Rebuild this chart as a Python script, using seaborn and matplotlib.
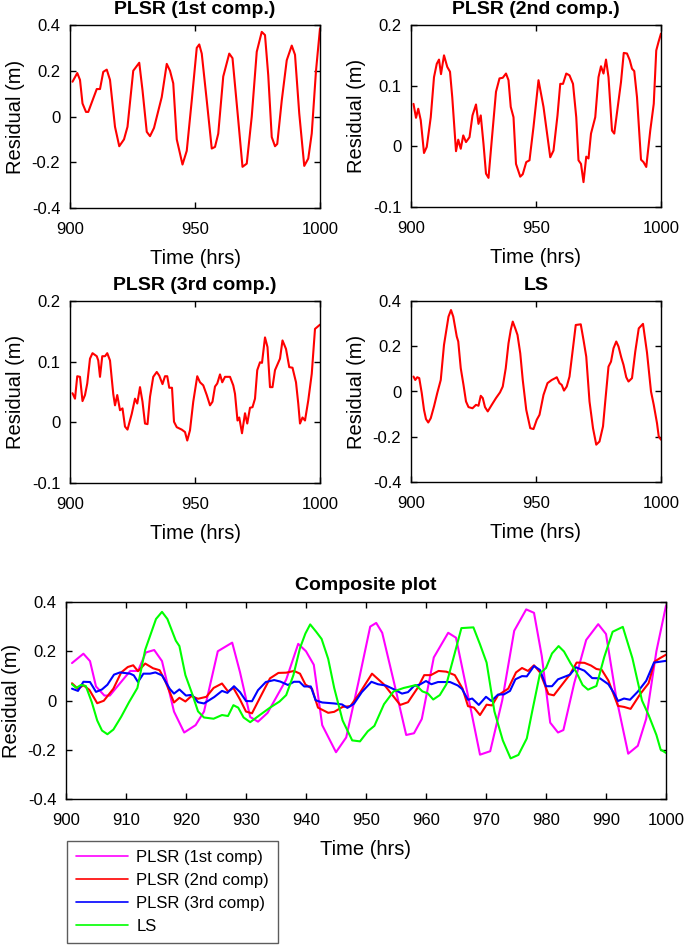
import numpy as np
import pandas as pd
import matplotlib
matplotlib.use("Agg")
import matplotlib.pyplot as plt
import seaborn as sns

# ---------------- data ----------------
t_pc1 = [901, 902.9, 904, 905, 906.4, 907.3, 910.7, 912, 913.3, 914.7, 916, 918, 919.7, 921.6,
         923, 925.3, 927.7, 929, 930.7, 932, 933.6, 936.7, 938.7, 940, 941.3, 942.7, 945, 946.7,
         948.7, 950.7, 951.7, 952.7, 954.7, 956.7, 958, 959.3, 961.3, 963.7, 965, 967.3, 969,
         970.7, 972.7, 974.7, 976.7, 978, 979.3, 980.7, 982, 982.9, 984.7, 986.7, 988.7, 990,
         991.7, 993.7, 995.3, 996.7, 998.4, 1000]
v_pc1 = [0.152, 0.19, 0.16, 0.057, 0.02, 0.02, 0.12, 0.12, 0.195, 0.205, 0.16, -0.045, -0.13, -0.10,
         -0.045, 0.20, 0.235, 0.115, -0.067, -0.086, -0.05, 0.085, 0.23, 0.20, 0.145, -0.10, -0.21, -0.15,
         0.07, 0.30, 0.315, 0.275, 0.07, -0.14, -0.133, -0.075, 0.175, 0.275, 0.255, -0.016, -0.22,
         -0.206, 0.0, 0.283, 0.37, 0.356, 0.18, -0.09, -0.13, -0.12, 0.07, 0.246, 0.31, 0.27,
         0.013, -0.216, -0.184, -0.074, 0.20, 0.385]

t_pc2 = [901, 902, 902.9, 903.9, 905.2, 906.3, 907.9, 909.2, 910.3, 911.2, 912, 913.2, 914.5, 915.6,
         916.5, 918, 918.9, 919.9, 920.9, 922, 923.4, 924.6, 926, 927, 927.9, 929, 930, 931, 932.3,
         934, 935.4, 936.7, 938, 939, 939.9, 941, 942, 943.7, 944.7, 946.1, 947.4, 949, 951, 953,
         955.7, 957, 958.6, 959.7, 960.8, 962.1, 963.4, 964.8, 966.1, 967, 968, 969, 970.1, 971,
         972, 973.7, 975, 976, 977, 978, 979, 980.4, 981.3, 982.7, 984, 985.1, 986.4, 987.5, 988.4,
         989.3, 990.4, 992, 993, 994.1, 995.7, 997.1, 998.1, 999, 1000]
v_pc2 = [0.070, 0.047, 0.062, 0.043, -0.011, -0.001, 0.048, 0.114, 0.136, 0.143, 0.119, 0.150, 0.131, 0.123,
         0.081, -0.008, 0.011, -0.004, 0.018, 0.007, 0.015, 0.051, 0.069, 0.037, 0.051, 0.004, -0.045, -0.052, 0.010,
         0.090, 0.112, 0.113, 0.120, 0.109, 0.065, 0.048, -0.029, -0.050, -0.046, -0.026, -0.023, 0.032, 0.109, 0.065,
         -0.018, -0.007, 0.051, 0.103, 0.103, 0.120, 0.117, 0.103, 0.048, -0.023, -0.029, -0.059, -0.017, -0.020,
         0.021, 0.048, 0.114, 0.132, 0.120, 0.143, 0.114, 0.026, 0.021, 0.065, 0.106, 0.154, 0.153, 0.142, 0.128,
         0.124, 0.081, -0.022, -0.026, -0.034, 0.026, 0.070, 0.158, 0.172, 0.186]

t_pc3 = [901, 902, 902.9, 904, 905, 906, 906.9, 908, 909, 910.7, 911.3, 912, 912.9, 914, 914.9, 916,
         916.7, 917.3, 918, 918.9, 920, 921, 922, 923, 924.7, 926, 926.9, 928, 929, 930, 931, 932,
         933.3, 934.7, 935.7, 937, 938, 938.9, 939.7, 940.8, 941.6, 942.7, 944.7, 946, 946.9, 948,
         949.3, 950.9, 952, 953.3, 954.7, 956, 957, 958, 958.9, 960, 960.9, 962, 964, 965.3, 966,
         967, 967.7, 968.8, 970, 970.9, 972, 973, 974, 974.9, 976, 976.8, 978, 979, 980, 981, 982,
         984, 985, 986.4, 987.7, 989, 990.4, 991.3, 992, 993, 994, 995.3, 996.7, 998, 1000]
v_pc3 = [0.048, 0.039, 0.076, 0.075, 0.035, 0.045, 0.064, 0.105, 0.114, 0.109, 0.102, 0.075, 0.109, 0.109, 0.114, 0.102,
         0.072, 0.047, 0.028, 0.045, 0.020, 0.023, -0.007, -0.012, 0.014, 0.039, 0.031, 0.058, 0.034, -0.002, -0.003, 0.042,
         0.075, 0.083, 0.077, 0.063, 0.076, 0.076, 0.057, 0.057, 0.001, -0.008, -0.012, -0.016, -0.030, -0.013,
         0.034, 0.076, 0.066, 0.061, 0.045, 0.028, 0.034, 0.059, 0.064, 0.079, 0.066, 0.075, 0.075, 0.061, 0.047,
         0.003, 0.008, -0.018, 0.015, -0.002, 0.024, 0.025, 0.039, 0.086, 0.099, 0.098, 0.140, 0.124, 0.058, 0.058, 0.086,
         0.105, 0.135, 0.121, 0.091, 0.090, 0.066, 0.031, -0.002, 0.008, 0.003, 0.036, 0.080, 0.154, 0.161]

t_ls = [901, 901.7, 902.5, 903.3, 904.3, 905.2, 906, 906.9, 907.9, 909.2, 910.5, 911.9, 913.2, 915, 916,
        916.9, 918.3, 918.9, 919.9, 921, 922, 923, 924.6, 926, 927, 927.9, 928.7, 929.6, 930.7, 932.3,
        934, 935.6, 936.7, 937.9, 939, 939.9, 940.7, 941.7, 942.6, 943.7, 944.7, 946.1, 947.7, 949,
        950.3, 951.4, 953, 954.6, 956.3, 957.7, 958.3, 959.4, 960.3, 961.2, 962.3, 963.4, 964.7, 965.9,
        967.9, 969, 970.1, 971.4, 972.8, 974.1, 975.4, 976.8, 977.7, 979, 980, 981, 982.1, 983, 984.1,
        985, 986.1, 987, 988.4, 989.7, 991.1, 992.8, 994.4, 996, 997.1, 998.4, 999.1, 1000]
v_ls = [0.066, 0.051, 0.063, 0.059, -0.007, -0.081, -0.122, -0.137, -0.118, -0.066, -0.007, 0.051, 0.206, 0.331, 0.360,
        0.331, 0.243, 0.221, 0.103, 0.029, -0.044, -0.069, -0.074, -0.059, -0.063, -0.019, -0.029, -0.069, -0.088, -0.059,
        -0.029, -0.004, 0.022, 0.103, 0.213, 0.272, 0.309, 0.279, 0.250, 0.169, 0.051, -0.081, -0.162, -0.166,
        -0.125, -0.103, -0.015, 0.037, 0.051, 0.059, 0.063, 0.037, 0.029, 0.004, 0.022, 0.066, 0.184, 0.294,
        0.297, 0.228, 0.154, -0.044, -0.162, -0.235, -0.221, -0.154, -0.044, 0.110, 0.132, 0.191, 0.221, 0.199, 0.151,
        0.118, 0.063, 0.044, 0.059, 0.176, 0.279, 0.299, 0.172, 0.0, -0.059, -0.140, -0.199, -0.213]

series_names = ["PLSR (1st comp)", "PLSR (2nd comp)", "PLSR (3rd comp)", "LS"]
panel_titles = ["PLSR (1st comp.)", "PLSR (2nd comp.)", "PLSR (3rd comp.)", "LS"]
series_colors = ["#ff00ff", "#ff0000", "#0000ff", "#00ff00"]
panel_ylims = [(-0.4, 0.4), (-0.1, 0.2), (-0.1, 0.2), (-0.4, 0.4)]
panel_yticks = [[-0.4, -0.2, 0, 0.2, 0.4], [-0.1, 0, 0.1, 0.2], [-0.1, 0, 0.1, 0.2], [-0.4, -0.2, 0, 0.2, 0.4]]
panel_ytick_labels = [["-0.4", "-0.2", "0", "0.2", "0.4"], ["-0.1", "0", "0.1", "0.2"],
                      ["-0.1", "0", "0.1", "0.2"], ["-0.4", "-0.2", "0", "0.2", "0.4"]]
comp_xticks = [900, 910, 920, 930, 940, 950, 960, 970, 980, 990, 1000]
comp_yticks = [-0.4, -0.2, 0, 0.2, 0.4]
comp_ytick_labels = ["-0.4", "-0.2", "0", "0.2", "0.4"]

times = [t_pc1, t_pc2, t_pc3, t_ls]
vals = [v_pc1, v_pc2, v_pc3, v_ls]

df = pd.concat([pd.DataFrame({"time": t, "resid": v, "series": n})
                for t, v, n in zip(times, vals, series_names)], ignore_index=True)

# ---------------- style ----------------
sns.set_style("ticks")
plt.rcParams["font.family"] = ["Liberation Sans", "DejaVu Sans"]
plt.rcParams["axes.linewidth"] = 1.0
plt.rcParams["xtick.direction"] = "in"
plt.rcParams["ytick.direction"] = "in"
plt.rcParams["text.color"] = "black"
plt.rcParams["axes.labelcolor"] = "black"
plt.rcParams["xtick.color"] = "black"
plt.rcParams["ytick.color"] = "black"

TICK_FS = 12
LABEL_FS = 14.5
TITLE_FS = 14

W, H = 685, 946
fig = plt.figure(figsize=(W / 100, H / 100), dpi=100)

def ax_px(l, t, r, b):
    return fig.add_axes([l / W, 1 - b / H, (r - l) / W, (b - t) / H])

def style_axes(ax, xticks, yticks, ylabels, ylim):
    ax.set_xlim(900, 1000)
    ax.set_ylim(*ylim)
    ax.set_xticks(xticks)
    ax.set_xticklabels([str(x) for x in xticks])
    ax.set_yticks(yticks)
    ax.set_yticklabels(ylabels)
    ax.tick_params(axis="both", which="both", direction="in", top=True, right=True,
                   length=4, width=1, labelsize=TICK_FS, colors="black")
    ax.tick_params(axis="x", pad=10)
    ax.tick_params(axis="y", pad=7)
    for s in ax.spines.values():
        s.set_visible(True)
        s.set_color("black")
        s.set_linewidth(1.0)
    ax.set_xlabel("Time (hrs)", fontsize=LABEL_FS, labelpad=9)
    ax.set_ylabel("Residual (m)", fontsize=LABEL_FS, labelpad=5)

panel_boxes = [(70, 25, 320, 208), (411, 25, 661, 207), (70, 301, 320, 483), (411, 301, 661, 482)]
for i, box in enumerate(panel_boxes):
    ax = ax_px(*box)
    sub = df[df["series"] == series_names[i]]
    sns.lineplot(data=sub, x="time", y="resid", ax=ax, color="#ff0000", linewidth=1.5,
                 sort=False, estimator=None)
    style_axes(ax, [900, 950, 1000], panel_yticks[i], panel_ytick_labels[i], panel_ylims[i])
    ax.set_title(panel_titles[i], fontsize=TITLE_FS, fontweight="bold", pad=8)

axc = ax_px(66, 602, 666, 799)
sns.lineplot(data=df, x="time", y="resid", hue="series", hue_order=series_names,
             palette=series_colors, ax=axc, linewidth=1.5, sort=False, estimator=None, legend=False)
style_axes(axc, comp_xticks, comp_yticks, comp_ytick_labels, (-0.4, 0.4))
axc.set_title("Composite plot", fontsize=TITLE_FS, fontweight="bold", pad=9)

handles = [plt.Line2D([], [], color=c, linewidth=1.2) for c in series_colors]
leg = fig.legend(handles, series_names, loc="upper left",
                 bbox_to_anchor=(67 / W, 1 - 841 / H), bbox_transform=fig.transFigure,
                 fontsize=12, frameon=True, fancybox=False, handlelength=3.1,
                 labelspacing=0.48, borderpad=0.55, handletextpad=0.5, borderaxespad=0)
leg.get_frame().set_edgecolor("#333333")
leg.get_frame().set_linewidth(1.0)

fig.savefig("out.png", dpi=100)
